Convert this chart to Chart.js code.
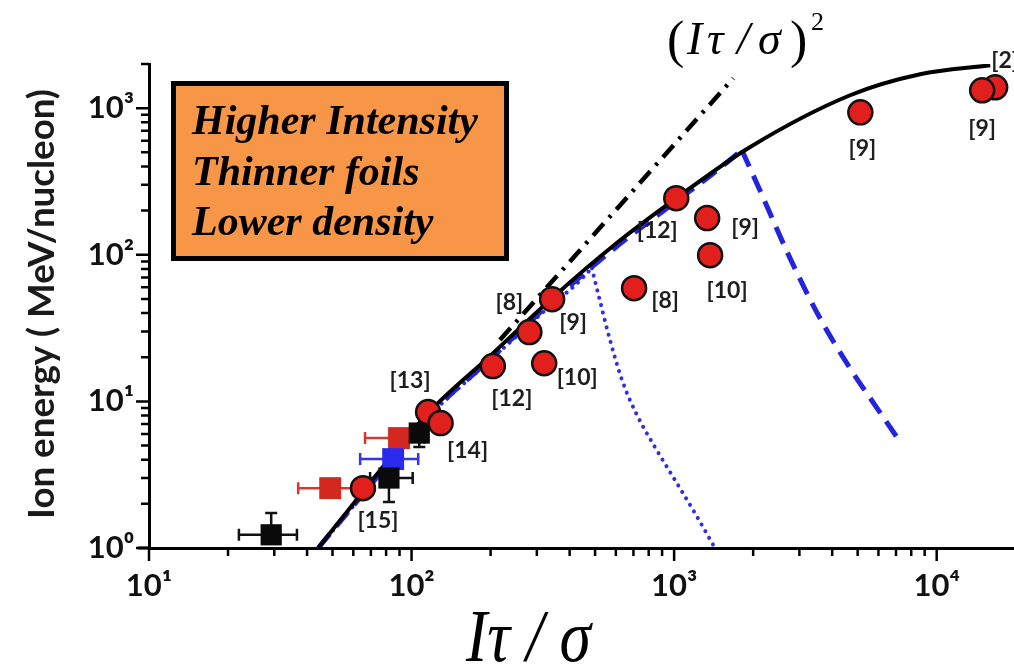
<!DOCTYPE html>
<html>
<head>
<meta charset="utf-8">
<script src="https://cdn.jsdelivr.net/npm/chart.js@4.4.0/dist/chart.umd.min.js"></script>
<style>
  html, body { margin: 0; padding: 0; background: #fff; overflow: hidden; }
  #wrap { width: 1014px; height: 670px; position: relative; }
  #wrap canvas { display: block; }
</style>
</head>
<body>
<div id="wrap"><canvas id="myChart"></canvas></div>
<script>
// axis ticks
const xTickValues = [10, 20, 30, 40, 50, 60, 70, 80, 90, 100, 200, 300, 400, 500, 600, 700, 800, 900,
    1000, 2000, 3000, 4000, 5000, 6000, 7000, 8000, 9000, 10000];
const xMajor = [10, 100, 1000, 10000];
const xMajorLabels = ['10¹', '10²', '10³', '10⁴'];
const yTickValues = [1, 2, 3, 4, 5, 6, 7, 8, 9, 10, 20, 30, 40, 50, 60, 70, 80, 90,
    100, 200, 300, 400, 500, 600, 700, 800, 900, 1000, 2000];
const yMajor = [1, 10, 100, 1000];
const yMajorLabels = ['10⁰', '10¹', '10²', '10³'];
const yTitle = 'Ion energy ( MeV/nucleon)';

// experiments (red circles) with reference numbers
const refX = [65.3, 115.6, 129, 204, 320, 281, 343, 704, 1019, 1336, 1371, 5120, 16700, 14900];
const refY = [2.56, 8.45, 7.11, 17.4, 18.2, 29.7, 49.8, 59.2, 243, 178, 99.4, 937, 1388, 1324];
const refLabels = ['[15]', '[13]', '[14]', '[12]', '[10]', '[8]', '[9]', '[8]', '[12]', '[9]', '[10]', '[9]', '[2]', '[9]'];
// label placement relative to each circle (px)
const refLabelOffset = [[15, 32], [-18, -32], [27, 27], [19, 32], [33, 14], [-20, -29], [21, 23],
    [31, 12], [-19, 32], [38, 10], [17, 35], [2, 36], [10, -27], [0, 38]];

// squares with error bars
const blackX = [29.2, 82.0, 107];
const blackY = [1.23, 3.0, 6.08];
const blackXLo = [22.0, 69.5, 107];
const blackXHi = [36.6, 101, 107];
const blackYLo = [1.23, 2.06, 4.88];
const blackYHi = [1.73, 3.0, 6.08];

const redX = [49, 89.6];
const redY = [2.56, 5.62];
const redXLo = [37, 66.5];
const redXHi = [64.7, 112];
const redYLo = [2.3, 5.62];
const redYHi = [2.9, 5.62];

const blueX = [85.1];
const blueY = [4.04];
const blueXLo = [63.7];
const blueXHi = [106];
const blueYLo = [4.04];
const blueYHi = [4.04];

// model curves
const modelX = [44.1, 66.5, 115.6, 199, 343, 590, 1019, 1914, 4680, 8650, 16000];
const modelY = [1.0, 2.52, 8.32, 20.4, 50.6, 116, 243, 533, 1224, 1702, 1961];
// blue dashed: rising branch and falling branch
const dashRiseX = [44.1, 66.5, 115.6, 199, 343, 590, 1019, 1400, 1811];
const dashRiseY = [1.0, 2.42, 7.9, 19.4, 48, 110, 232, 355, 517];
const dashFallX = [1811, 2122, 2763, 3591, 4670, 5819, 7049];
const dashFallY = [517, 275, 94.8, 37.0, 16.9, 9.43, 5.71];
// blue dotted: rising branch and falling branch
const dotRiseX = [44.1, 66.5, 115.6, 199, 343, 420, 486];
const dotRiseY = [1.0, 2.4, 7.8, 19.0, 46, 62, 81];
const dotFallX = [486, 521, 570, 633, 722, 845, 1007, 1200, 1430];
const dotFallY = [81, 49.1, 26.2, 14.0, 8.07, 4.88, 2.91, 1.73, 1.0];
// (I tau / sigma)^2 guide
const sqX = [217, 1680];
const sqY = [26.2, 1600];

function pts(xs, ys) {
    return xs.map((x, i) => ({ x: x, y: ys[i] }));
}

function majorLabel(v, majors, labels) {
    const i = majors.indexOf(v);
    return i >= 0 ? labels[i] : '';
}

// error bars under the squares
const errorBars = {
    id: 'errorBars',
    beforeDatasetsDraw(chart) {
        const ctx = chart.ctx;
        const xs = chart.scales.x, ys = chart.scales.y;
        const groups = [
            [blackX, blackY, blackXLo, blackXHi, blackYLo, blackYHi, '#111'],
            [redX, redY, redXLo, redXHi, redYLo, redYHi, '#d23a30'],
            [blueX, blueY, blueXLo, blueXHi, blueYLo, blueYHi, '#3434e8']
        ];
        const cap = 6;
        ctx.save();
        ctx.lineWidth = 2.5;
        groups.forEach(g => {
            ctx.strokeStyle = g[6];
            g[0].forEach((x, i) => {
                const px = xs.getPixelForValue(x), py = ys.getPixelForValue(g[1][i]);
                const x0 = xs.getPixelForValue(g[2][i]), x1 = xs.getPixelForValue(g[3][i]);
                const y0 = ys.getPixelForValue(g[4][i]), y1 = ys.getPixelForValue(g[5][i]);
                ctx.beginPath();
                ctx.moveTo(x0, py); ctx.lineTo(x1, py);
                ctx.moveTo(px, y0); ctx.lineTo(px, y1);
                if (g[2][i] !== x) { ctx.moveTo(x0, py - cap); ctx.lineTo(x0, py + cap); }
                if (g[3][i] !== x) { ctx.moveTo(x1, py - cap); ctx.lineTo(x1, py + cap); }
                if (g[4][i] !== g[1][i]) { ctx.moveTo(px - cap, y0); ctx.lineTo(px + cap, y0); }
                if (g[5][i] !== g[1][i]) { ctx.moveTo(px - cap, y1); ctx.lineTo(px + cap, y1); }
                ctx.stroke();
            });
        });
        ctx.restore();
    }
};

// tick marks, box, labels and formula
const decorations = {
    id: 'decorations',
    afterDraw(chart) {
        const ctx = chart.ctx;
        const xs = chart.scales.x, ys = chart.scales.y;
        const area = chart.chartArea;
        ctx.save();

        // tick marks outside the axes
        ctx.strokeStyle = '#000';
        ctx.lineWidth = 2.5;
        ctx.beginPath();
        xTickValues.forEach(v => {
            const p = xs.getPixelForValue(v);
            const len = xMajor.includes(v) ? 13 : 8;
            ctx.moveTo(p, area.bottom); ctx.lineTo(p, area.bottom + len);
        });
        yTickValues.forEach(v => {
            const p = ys.getPixelForValue(v);
            const len = yMajor.includes(v) ? 13 : 8;
            ctx.moveTo(area.left, p); ctx.lineTo(area.left - len, p);
        });
        ctx.stroke();
        ctx.lineWidth = 3;
        ctx.beginPath();
        ctx.moveTo(area.left - 11, area.bottom); ctx.lineTo(area.left, area.bottom);
        ctx.stroke();

        // y axis title, sized to span the axis like the original
        ctx.save();
        ctx.translate(42, 304);
        ctx.rotate(-Math.PI / 2);
        ctx.font = 'bold 32px Lato';
        const w = ctx.measureText(yTitle).width;
        ctx.font = 'bold ' + (32 * 430 / w).toFixed(1) + 'px Lato';
        ctx.fillStyle = '#1a1a1a';
        ctx.textAlign = 'center';
        ctx.textBaseline = 'middle';
        ctx.fillText(yTitle, 0, 0);
        ctx.restore();

        // reference labels
        ctx.fillStyle = '#1e1e1e';
        ctx.font = 'bold 23px Lato';
        ctx.textAlign = 'center';
        ctx.textBaseline = 'middle';
        refX.forEach((x, i) => {
            const px = xs.getPixelForValue(x), py = ys.getPixelForValue(refY[i]);
            ctx.fillText(refLabels[i], px + refLabelOffset[i][0], py + refLabelOffset[i][1]);
        });

        // orange box
        ctx.fillStyle = '#F79646';
        ctx.fillRect(173, 83, 334, 176);
        ctx.strokeStyle = '#000';
        ctx.lineWidth = 5;
        ctx.strokeRect(173.5, 83.5, 333, 175);
        ctx.fillStyle = '#000';
        ctx.textAlign = 'left';
        ctx.textBaseline = 'alphabetic';
        ctx.font = 'italic bold 42px "Liberation Serif"';
        ctx.fillText('Higher Intensity', 192, 134);
        ctx.fillText('Thinner foils', 192, 185);
        ctx.fillText('Lower density', 192, 235);

        // (I tau / sigma)^2 label
        ctx.font = '52px "Liberation Serif"';
        ctx.fillText('(', 667, 57);
        ctx.fillText(')', 790, 57);
        ctx.font = 'italic 46px "Liberation Serif"';
        ctx.fillText('I', 687, 54);
        ctx.fillText('τ', 707, 54);
        ctx.fillText('/', 737, 54);
        ctx.fillText('σ', 758, 54);
        ctx.font = '26px "Liberation Serif"';
        ctx.fillText('2', 811, 30);

        // x axis title
        ctx.save();
        ctx.translate(466, 661);
        ctx.scale(0.86, 1);
        ctx.font = 'italic 74px "Liberation Serif"';
        ctx.fillText('Iτ / σ', 0, 0);
        ctx.restore();

        ctx.restore();
    }
};

function curve(label, xs, ys, style) {
    return Object.assign({
        type: 'line',
        label: label,
        data: pts(xs, ys),
        pointRadius: 0,
        fill: false,
        cubicInterpolationMode: 'monotone'
    }, style);
}

const dashStyle = { borderColor: '#2424dc', borderWidth: 5, borderDash: [18, 10] };
const dotStyle = { borderColor: '#3030e0', borderWidth: 4, borderDash: [0.1, 7.5], borderCapStyle: 'round' };

const ctx = document.getElementById('myChart').getContext('2d');
const myChart = new Chart(ctx, {
    type: 'scatter',
    data: {
        datasets: [
            {
                label: 'experiments',
                data: pts(refX, refY),
                pointRadius: 12,
                pointBackgroundColor: '#e11f1c',
                pointBorderColor: '#111',
                pointBorderWidth: 2.5,
                clip: false
            },
            {
                label: 'black',
                data: pts(blackX, blackY),
                pointStyle: 'rect',
                pointRadius: 15,
                pointBackgroundColor: '#0a0a0a',
                pointBorderWidth: 0,
                clip: false
            },
            {
                label: 'blue',
                data: pts(blueX, blueY),
                pointStyle: 'rect',
                pointRadius: 15.5,
                pointBackgroundColor: '#2b2bf0',
                pointBorderWidth: 0,
                clip: false
            },
            {
                label: 'red',
                data: pts(redX, redY),
                pointStyle: 'rect',
                pointRadius: 15.5,
                pointBackgroundColor: '#d3281f',
                pointBorderWidth: 0,
                clip: false
            },
            curve('model', modelX, modelY, { borderColor: '#000', borderWidth: 4 }),
            curve('blue dashed rise', dashRiseX, dashRiseY, dashStyle),
            curve('blue dashed fall', dashFallX, dashFallY, dashStyle),
            curve('blue dotted rise', dotRiseX, dotRiseY, dotStyle),
            curve('blue dotted fall', dotFallX, dotFallY, dotStyle),
            curve('square law', sqX, sqY, { borderColor: '#000', borderWidth: 4.5, borderDash: [16, 8, 3, 8] })
        ]
    },
    options: {
        responsive: true,
        maintainAspectRatio: false,
        animation: false,
        layout: { autoPadding: false, padding: { top: 64, right: 0, bottom: 0, left: 0 } },
        plugins: {
            legend: { display: false },
            tooltip: { enabled: false }
        },
        scales: {
            x: {
                type: 'logarithmic',
                min: 10,
                max: 19700,
                afterBuildTicks: s => { s.ticks = xTickValues.map(v => ({ value: v })); },
                afterFit: s => { s.height = 122; s.paddingLeft = 0; s.paddingRight = 0; },
                grid: { display: false, drawTicks: false },
                border: { display: true, color: '#000', width: 3 },
                ticks: {
                    autoSkip: false,
                    maxRotation: 0,
                    padding: 19,
                    color: '#111',
                    font: { family: 'Lato', weight: 'bold', size: 31 },
                    callback: v => majorLabel(v, xMajor, xMajorLabels)
                }
            },
            y: {
                type: 'logarithmic',
                min: 1,
                max: 2000,
                afterBuildTicks: s => { s.ticks = yTickValues.map(v => ({ value: v })); },
                afterFit: s => { s.width = 149; s.paddingTop = 0; s.paddingBottom = 0; },
                grid: { display: false, drawTicks: false },
                border: { display: true, color: '#000', width: 3 },
                ticks: {
                    autoSkip: false,
                    padding: 15,
                    color: '#111',
                    font: { family: 'Lato', weight: 'bold', size: 31 },
                    callback: v => majorLabel(v, yMajor, yMajorLabels)
                }
            }
        }
    },
    plugins: [errorBars, decorations]
});
</script>
</body>
</html>
